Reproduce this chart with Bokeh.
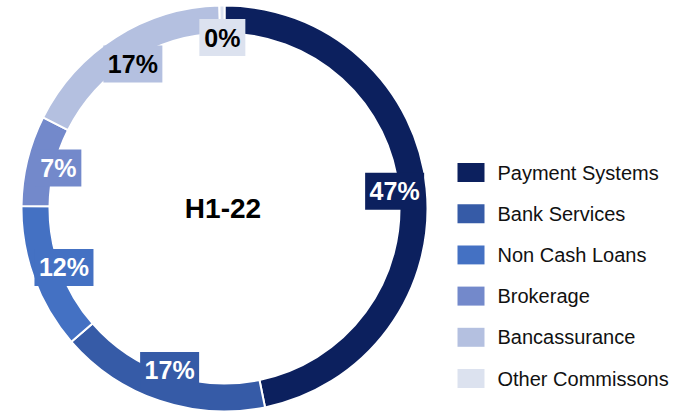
import numpy as np
from bokeh.plotting import figure
from bokeh.models import Range1d, ColumnDataSource
from bokeh.core.properties import value
from bokeh.embed import file_html
from bokeh.resources import INLINE

# ---- data ----
categories = ["Payment Systems", "Bank Services", "Non Cash Loans",
              "Brokerage", "Bancassurance", "Other Commissons"]
shares = [46.8, 16.8, 11.6, 7.2, 17.2, 0.4]
pct_labels = ["47%", "17%", "12%", "7%", "17%", "0%"]
colors = ["#0c205e", "#365ba7", "#4471c3", "#7389cb", "#b4c0e0", "#dce2ef"]
label_colors = ["white", "white", "white", "white", "black", "black"]
center_title = "H1-22"

# ---- layout ----
W, H = 672, 412
cx, cy = 224, H - 208
r_in, r_out, r_lab = 175, 203, 171

p = figure(width=W, height=H, x_range=Range1d(0, W), y_range=Range1d(0, H),
           output_backend="svg", toolbar_location=None, min_border=0,
           x_axis_location=None, y_axis_location=None)
p.grid.visible = False
p.outline_line_color = None

frac = np.array(shares, dtype=float) / sum(shares)
cum = np.concatenate([[0.0], np.cumsum(frac)])
start = np.pi / 2 - 2 * np.pi * cum[:-1]
end = np.pi / 2 - 2 * np.pi * cum[1:]
mid = (start + end) / 2

src = ColumnDataSource(dict(
    cat=categories, start=start, end=end, color=colors, label=pct_labels,
    tcolor=label_colors,
    lx=cx + r_lab * np.cos(mid), ly=cy + r_lab * np.sin(mid),
    bw=[13 * len(s) + 20 for s in pct_labels],
))

p.annular_wedge(x=cx, y=cy, inner_radius=r_in, outer_radius=r_out,
                start_angle="start", end_angle="end", direction="clock",
                fill_color="color", line_color="white", line_width=2, source=src)

p.rect(x="lx", y="ly", width="bw", height=37, width_units="screen",
       height_units="screen", fill_color="color", line_color=None, source=src)
p.text(x="lx", y="ly", text="label", text_align="center", text_baseline="middle",
       text_font=value("Liberation Sans"), text_font_style="bold",
       text_font_size="25px", text_color="tcolor", source=src)

p.text(x=[cx - 1.5], y=[cy], text=[center_title], text_align="center",
       text_baseline="middle", text_font=value("Liberation Sans"),
       text_font_style="bold", text_font_size="28px", text_color="black")

# ---- legend (manual) ----
n = len(categories)
leg_y = [H - (172 + 41.2 * i) for i in range(n)]
leg = ColumnDataSource(dict(x=[470.5] * n, y=leg_y, tx=[497] * n,
                            color=colors, cat=categories))
p.rect(x="x", y="y", width=27, height=19, width_units="screen",
       height_units="screen", fill_color="color", line_color=None, source=leg)
p.text(x="tx", y="y", text="cat", text_align="left", text_baseline="middle",
       text_font=value("Liberation Sans"), text_font_size="20px",
       text_color="#111111", source=leg)

open("out.html", "w").write(file_html(p, INLINE))
